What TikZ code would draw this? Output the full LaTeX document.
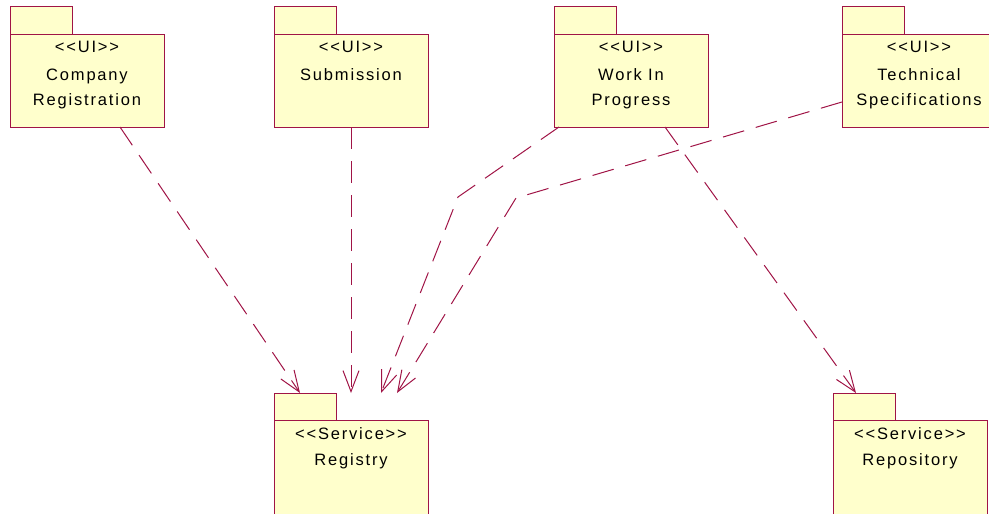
\documentclass[tikz,border=0pt]{standalone}
\usepackage{fontspec}
\setmainfont[LetterSpace=11,Ligatures=TeXOff]{Liberation Sans}
\usetikzlibrary{arrows.meta,calc}
\definecolor{pkgline}{RGB}{160,20,70}
\definecolor{pkgfill}{RGB}{255,255,204}
\tikzset{
  pkgbody/.style={draw=pkgline,fill=pkgfill,line width=1pt,minimum width=154pt,inner sep=0pt,anchor=north west,outer sep=0pt},
  pkgtab/.style={draw=pkgline,fill=pkgfill,line width=1pt,minimum width=62pt,minimum height=28pt,inner sep=0pt,anchor=south west,outer sep=0pt},
  lbl/.style={anchor=base,inner sep=0pt,font=\fontsize{16.5}{25}\selectfont},
  dep/.style={draw=pkgline,line width=1pt,dash pattern=on 22pt off 12pt,-{Straight Barb[length=21pt,width=16pt,line width=1pt]}}
}
\begin{document}
\begin{tikzpicture}[x=1pt,y=-1pt]
\useasboundingbox (0,0) rectangle (989,514);
% UI packages
\node[pkgbody,minimum height=93pt] (cr) at (10,34) {};
\node[pkgtab] (crtab) at (cr.north west) {};
\node[lbl] (crs) at (87,52) {<<UI>>};
\node[lbl] (crn1) at (87,80) {Company};
\node[lbl] (crn2) at (87,105) {Registration};

\node[pkgbody,minimum height=93pt] (sub) at (274,34) {};
\node[pkgtab] (subtab) at (sub.north west) {};
\node[lbl] (subs) at (351,52) {<<UI>>};
\node[lbl] (subn) at (351,80) {Submission};

\node[pkgbody,minimum height=93pt] (wip) at (554,34) {};
\node[pkgtab] (wiptab) at (wip.north west) {};
\node[lbl] (wips) at (631,52) {<<UI>>};
\node[lbl] (wipn1) at (631,80) {Work In};
\node[lbl] (wipn2) at (631,105) {Progress};

\node[pkgbody,minimum height=93pt] (ts) at (842,34) {};
\node[pkgtab] (tstab) at (ts.north west) {};
\node[lbl] (tss) at (919,52) {<<UI>>};
\node[lbl] (tsn1) at (919,80) {Technical};
\node[lbl] (tsn2) at (919,105) {Specifications};

% Service packages
\node[pkgbody,minimum height=100pt] (reg) at (274,420) {};
\node[pkgtab,minimum height=27pt] (regtab) at (reg.north west) {};
\node[lbl] (regs) at (351,439) {<<Service>>};
\node[lbl] (regn) at (351,465) {Registry};

\node[pkgbody,minimum height=100pt] (rep) at (833,420) {};
\node[pkgtab,minimum height=27pt] (reptab) at (rep.north west) {};
\node[lbl] (reps) at (910,439) {<<Service>>};
\node[lbl] (repn) at (910,465) {Repository};

% dependencies
\draw[dep] ($(cr.south west)+(110,0)$) -- ($(regtab.north west)+(26,0)$);
\draw[dep] (sub.south) -- ($(regtab.north west)+(77,0)$);
\draw[dep] ($(wip.south west)+(5,0)$) -- (458,197) -- ($(regtab.north west)+(107,0)$);
\draw[dep] ($(ts.south west)+(0,-25)$) -- (516,198) -- ($(regtab.north west)+(123,0)$);
\draw[dep] ($(wip.south west)+(111,0)$) -- ($(reptab.north west)+(23,0)$);
\end{tikzpicture}
\end{document}
